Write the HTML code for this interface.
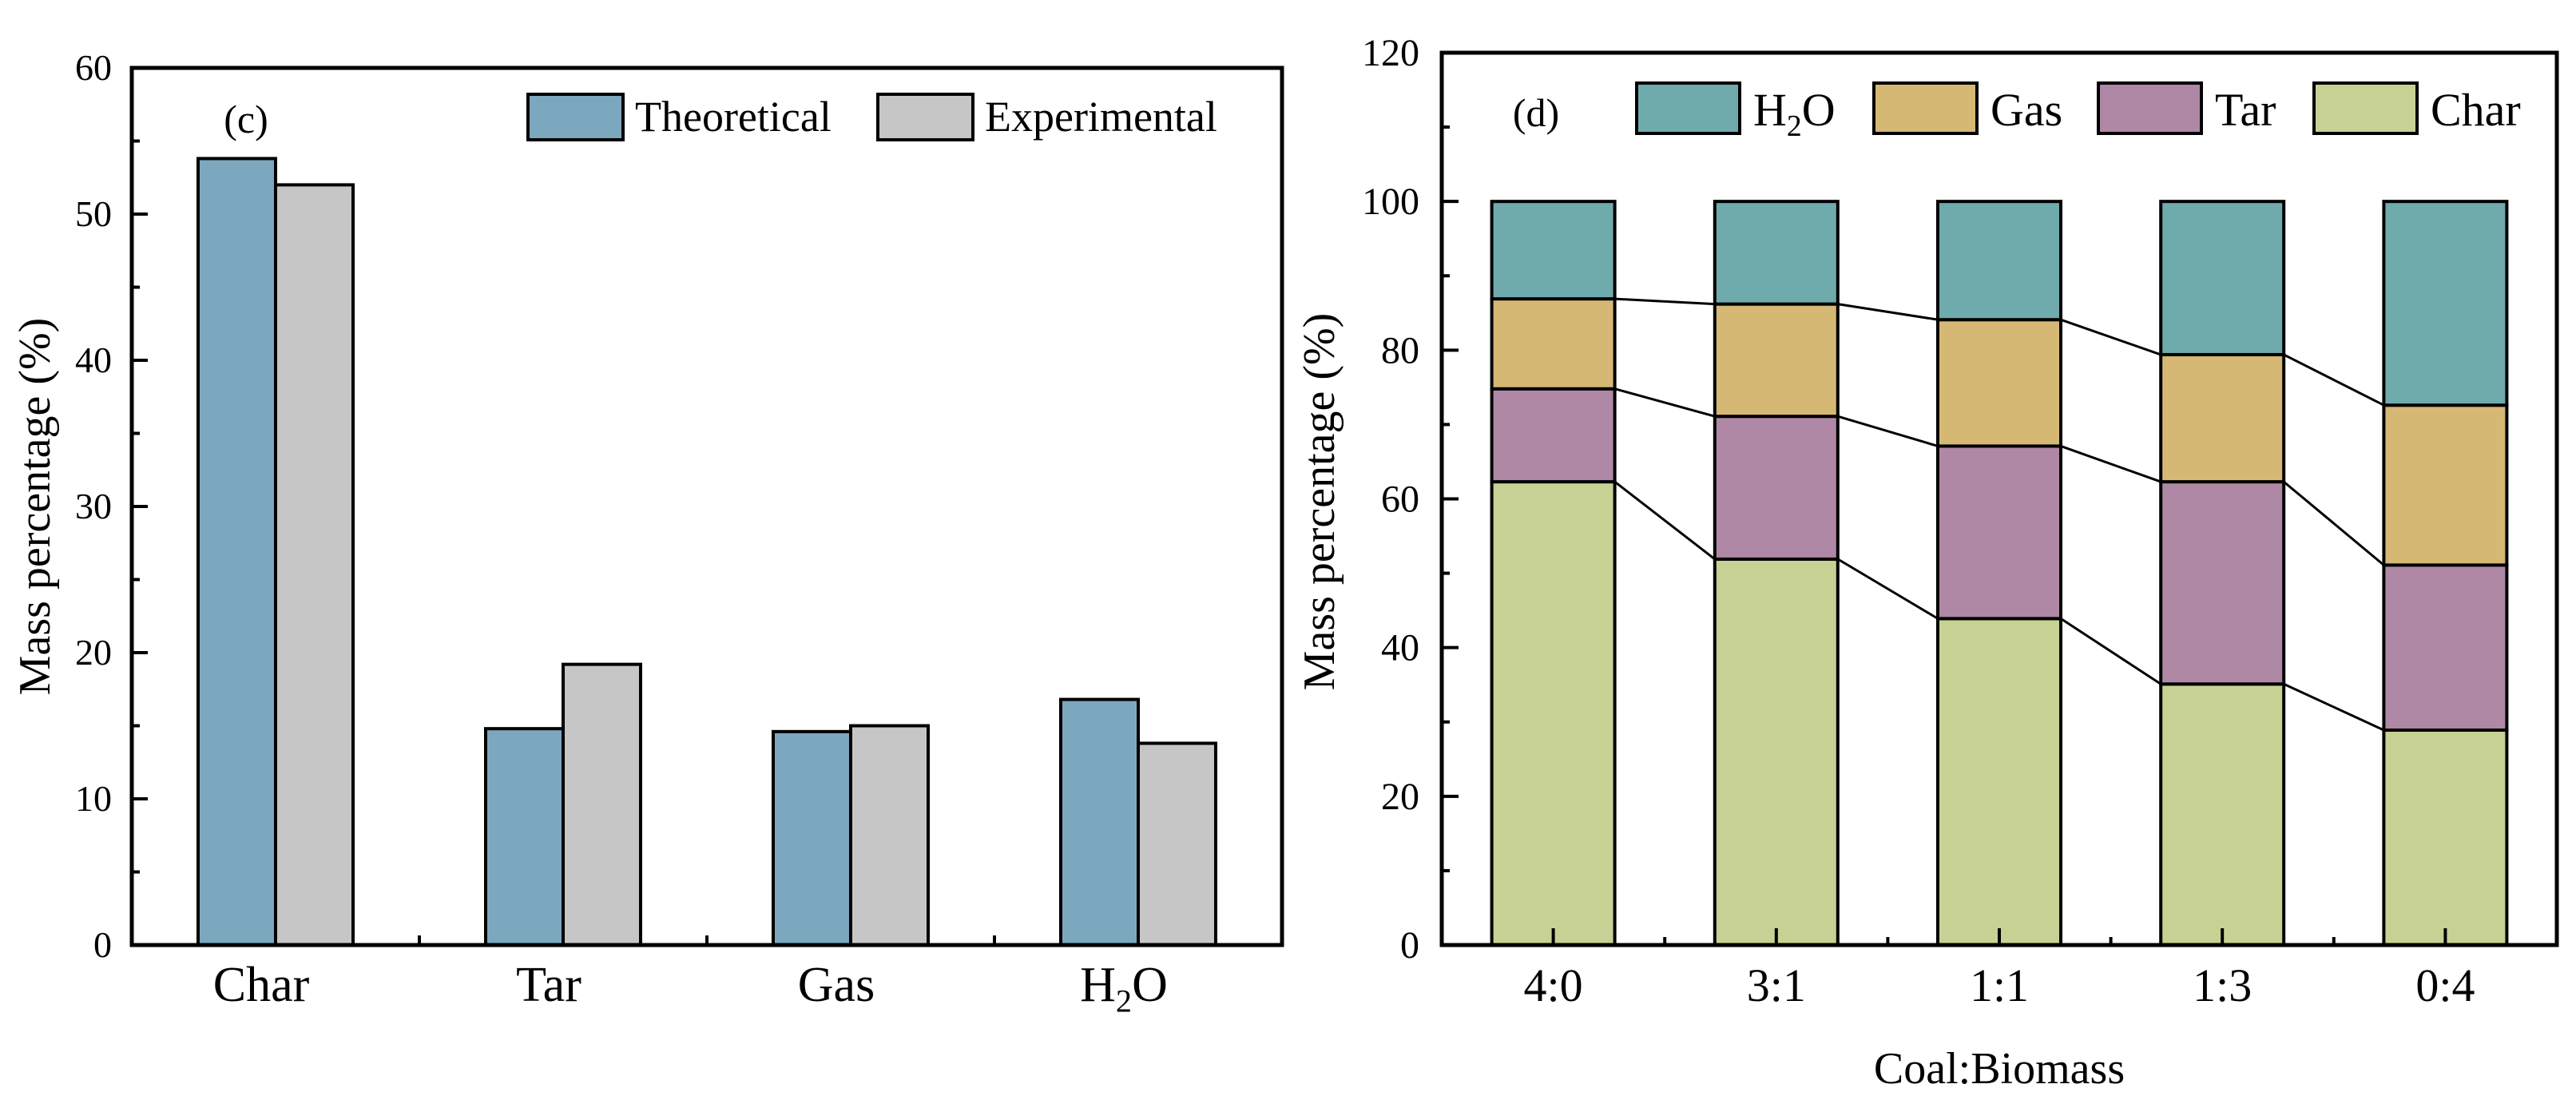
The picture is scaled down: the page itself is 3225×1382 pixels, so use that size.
<!DOCTYPE html>
<html><head><meta charset="utf-8"><style>
html,body{margin:0;padding:0;background:#fff;}
svg{display:block;}
svg text{font-family:"Liberation Serif","Times New Roman",serif;}
</style></head><body>
<svg id="chart" width="3225" height="1382" viewBox="0 0 3225 1382" xmlns="http://www.w3.org/2000/svg"></svg>
<script>
const NS="http://www.w3.org/2000/svg";
// Panel (c) data
const cCategories=["Char","Tar","Gas","H2O"];
const cTheoretical=[53.8,14.8,14.6,16.8];
const cExperimental=[52.0,19.2,15.0,13.8];
const cTicks=[0,10,20,30,40,50,60];
// Panel (d) data
const dCategories=["4:0","3:1","1:1","1:3","0:4"];
const dChar=[62.3,51.9,43.9,35.1,28.9];
const dTar=[12.5,19.2,23.2,27.2,22.2];
const dGas=[12.1,15.1,17.0,17.1,21.5];
const dH2O=[13.1,13.8,15.9,20.6,27.4];
const dTicks=[0,20,40,60,80,100,120];

const svg=document.getElementById('chart');
const FF='"Liberation Serif", "Times New Roman", serif';
function el(tag,attrs,parent){const e=document.createElementNS(NS,tag);for(const k in attrs)e.setAttribute(k,attrs[k]);(parent||svg).appendChild(e);return e;}
function txt(s,attrs,parent){attrs['font-family']=FF;const e=el('text',attrs,parent);e.textContent=s;return e;}
function label(parent,s,x,y,size,anchor){
  const t=el('text',{x:x,y:y,'font-size':size,'text-anchor':anchor||'middle',fill:'#000','font-family':FF},parent);
  if(s==='H2O'){t.appendChild(document.createTextNode('H'));const sub=document.createElementNS(NS,'tspan');sub.setAttribute('font-size',size*0.65);sub.setAttribute('dy',size*0.22);sub.textContent='2';t.appendChild(sub);const o=document.createElementNS(NS,'tspan');o.setAttribute('dy',-size*0.22);o.textContent='O';t.appendChild(o);}
  else t.textContent=s;
  return t;
}

// ---------- Panel c ----------
const gc=el('g',{});


const C={l:165,r:1605,t:85,b:1183,max:60};
const cy=v=>C.b-(v/C.max)*(C.b-C.t);
const cw=(C.r-C.l)/cCategories.length;
const cx=i=>C.l+cw*(i+0.5);
const cbw=97;
cCategories.forEach((c,i)=>{
  const r1=el('rect',{x:cx(i)-cbw,y:cy(cTheoretical[i]),width:cbw,height:C.b-cy(cTheoretical[i]),fill:'#7BA8BE',stroke:'#000','stroke-width':4},gc);
  
  
  const r2=el('rect',{x:cx(i),y:cy(cExperimental[i]),width:cbw,height:C.b-cy(cExperimental[i]),fill:'#C6C6C6',stroke:'#000','stroke-width':4},gc);
  
  
  const t=label(gc,c,cx(i)-18,1253,62);
  
  
  if(i>0) el('line',{x1:C.l+cw*i,x2:C.l+cw*i,y1:C.b,y2:C.b-12,stroke:'#000','stroke-width':4},gc);
});
cTicks.forEach(v=>{
  el('line',{x1:C.l,x2:C.l+20,y1:cy(v),y2:cy(v),stroke:'#000','stroke-width':4},gc);
  if(v<60) el('line',{x1:C.l,x2:C.l+10,y1:cy(v+5),y2:cy(v+5),stroke:'#000','stroke-width':4},gc);
  const t=txt(String(v),{x:140,y:cy(v)+15,'font-size':46,'text-anchor':'end'},gc);
  
  
});
const cf=el('rect',{x:C.l,y:C.t,width:C.r-C.l,height:C.b-C.t,fill:'none',stroke:'#000','stroke-width':5},gc);


const cyt=txt('Mass percentage (%)',{x:0,y:0,'font-size':56,'text-anchor':'middle',transform:'translate(62,634) rotate(-90)'},gc);


const pc=txt('(c)',{x:308,y:166,'font-size':50,'text-anchor':'middle'},gc);


[[661,'#7BA8BE','Theoretical'],[1099,'#C6C6C6','Experimental']].forEach(([x,col,name])=>{
  const g=el('g',{},gc);
  
  
  el('rect',{x:x,y:118,width:119,height:57,fill:col,stroke:'#000','stroke-width':4},g);
  txt(name,{x:x+134,y:164,'font-size':54},g);
});

// ---------- Panel d ----------
const gd=el('g',{});


const D={l:1805,r:3201,t:66,b:1183,max:120};
const dy=v=>D.b-(v/D.max)*(D.b-D.t);
const dw=(D.r-D.l)/dCategories.length;
const dx=i=>D.l+dw*(i+0.5);
const dbw=154;
const series=[['char',dChar,'#C7D193'],['tar',dTar,'#AF88A5'],['gas',dGas,'#D5B874'],['h2o',dH2O,'#6FABAD']];
const tops=[];
dCategories.forEach((c,i)=>{
  let base=0;tops[i]=[];
  series.forEach(([n,arr,col])=>{
    const v0=base,v1=base+arr[i];
    const r=el('rect',{x:dx(i)-dbw/2,y:dy(v1),width:dbw,height:dy(v0)-dy(v1),fill:col,stroke:'#000','stroke-width':4},gd);
    
    
    tops[i].push(v1);base=v1;
  });
  const t=txt(c,{x:dx(i),y:1253,'font-size':58,'text-anchor':'middle'},gd);
  
  
  el('line',{x1:dx(i),x2:dx(i),y1:D.b,y2:D.b-21,stroke:'#000','stroke-width':4},gd);
  if(i>0) el('line',{x1:D.l+dw*i,x2:D.l+dw*i,y1:D.b,y2:D.b-10,stroke:'#000','stroke-width':4},gd);
});
for(let s=0;s<3;s++){
  for(let i=0;i<dCategories.length-1;i++){
    el('line',{x1:dx(i)+dbw/2,y1:dy(tops[i][s]),x2:dx(i+1)-dbw/2,y2:dy(tops[i+1][s]),stroke:'#000','stroke-width':3},gd);
  }
}
dTicks.forEach(v=>{
  el('line',{x1:D.l,x2:D.l+21,y1:dy(v),y2:dy(v),stroke:'#000','stroke-width':4},gd);
  if(v<120) el('line',{x1:D.l,x2:D.l+10,y1:dy(v+10),y2:dy(v+10),stroke:'#000','stroke-width':4},gd);
  const t=txt(String(v),{x:1777,y:dy(v)+16,'font-size':48,'text-anchor':'end'},gd);
  
  
});
const df=el('rect',{x:D.l,y:D.t,width:D.r-D.l,height:D.b-D.t,fill:'none',stroke:'#000','stroke-width':5},gd);


const dyt=txt('Mass percentage (%)',{x:0,y:0,'font-size':56,'text-anchor':'middle',transform:'translate(1670,628) rotate(-90)'},gd);


const dxt=txt('Coal:Biomass',{x:2503,y:1356,'font-size':56,'text-anchor':'middle'},gd);


const pd=txt('(d)',{x:1923,y:158,'font-size':50,'text-anchor':'middle'},gd);


[[2049,'#6FABAD','H2O'],[2346,'#D5B874','Gas'],[2627,'#AF88A5','Tar'],[2897,'#C7D193','Char']].forEach(([x,col,name])=>{
  const g=el('g',{},gd);
  
  
  el('rect',{x:x,y:104,width:129,height:63,fill:col,stroke:'#000','stroke-width':4},g);
  label(g,name,x+146,157,58,'start');
});
</script>
</body></html>
